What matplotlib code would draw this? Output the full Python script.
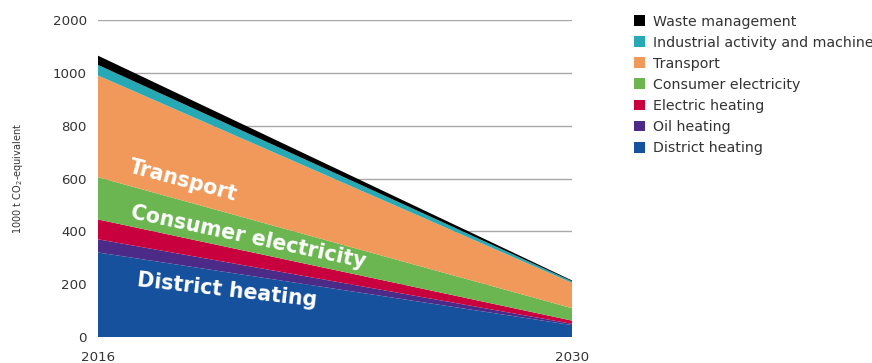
import numpy as np
import matplotlib.pyplot as plt

# emissions by sector, 1000 t CO2-equivalent
years = [2016, 2030]
district_heating = [320, 45]
oil_heating = [50, 5]
electric_heating = [75, 12]
consumer_electricity = [160, 47]
transport = [385, 96]
industrial = [40, 6]
waste = [35, 3]

series = [district_heating, oil_heating, electric_heating, consumer_electricity,
          transport, industrial, waste]
names = ['District heating', 'Oil heating', 'Electric heating', 'Consumer electricity',
         'Transport', 'Industrial activity and machinery', 'Waste management']
colors = ['#15519c', '#4b2a88', '#c8003d', '#6bb651', '#f0995a', '#27a9b5', '#000000']

ytick_vals = [0, 200, 400, 600, 800, 1000, 1200]
ytick_labels = ['0', '200', '400', '600', '800', '1000', '2000']

plt.rcParams['font.family'] = ['DejaVu Sans']

fig = plt.figure(figsize=(8.72, 3.63), dpi=100)
ax = fig.add_axes([0.1124, 0.0716, 0.5436, 0.8733])

ax.stackplot(years, *series, colors=colors, labels=names, linewidth=0)

ax.set_xlim(2016, 2030)
ax.set_ylim(0, 1200)
ax.set_yticks(ytick_vals)
ax.set_yticklabels(ytick_labels)
ax.set_xticks(years)
ax.yaxis.grid(True, color='#a8a8a8', linewidth=1)
ax.set_axisbelow(True)
for s in ax.spines.values():
    s.set_visible(False)
ax.tick_params(axis='both', length=0, labelsize=9.6, colors='#333333')
ax.tick_params(axis='y', pad=8)
ax.tick_params(axis='x', pad=10)
ax.set_ylabel('1000 t CO$_2$-equivalent', fontsize=7, color='#333333', labelpad=20)

# labels on the areas
lab = dict(color='white', fontweight='bold', fontsize=14.8, ha='center', va='center')
ax.text(2018.51, 592, 'Transport', rotation=-15, **lab)
ax.text(2020.43, 378, 'Consumer electricity', rotation=-12, **lab)
ax.text(2019.81, 178, 'District heating', rotation=-6.5, **lab)

handles, labels = ax.get_legend_handles_labels()
fig.legend(handles[::-1], labels[::-1], loc='upper left', bbox_to_anchor=(0.712, 0.995),
           frameon=False, fontsize=10.2, handlelength=0.8, handleheight=0.8,
           handletextpad=0.6, labelspacing=0.5, labelcolor='#333333')

fig.savefig('out.png', dpi=100)
